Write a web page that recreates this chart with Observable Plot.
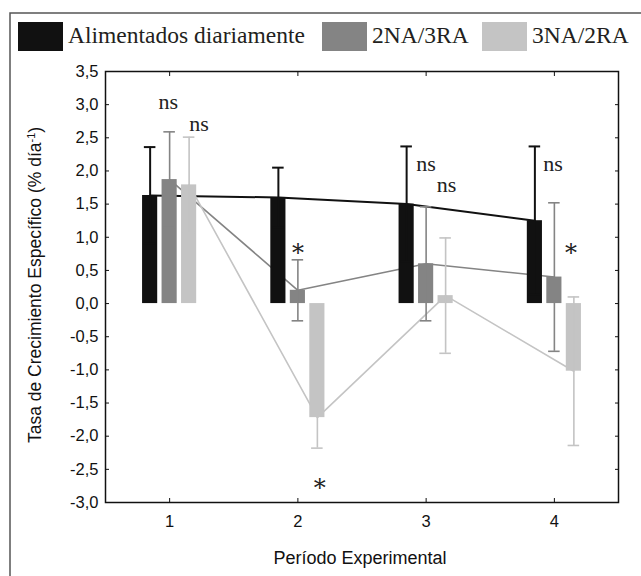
<!DOCTYPE html>
<html><head><meta charset="utf-8">
<script src="https://cdn.jsdelivr.net/npm/d3@7"></script>
<script src="https://cdn.jsdelivr.net/npm/@observablehq/plot@0.6"></script>
<style>
html,body{margin:0;padding:0;background:#fff;}
#wrap{position:relative;width:641px;height:576px;overflow:hidden;}
#wrap > svg{position:absolute;left:0;top:0;}
</style></head><body><div id="wrap"></div>
<script>
// ---- data ----
const periods = [1, 2, 3, 4];
const seriesNames = ["Alimentados diariamente", "2NA/3RA", "3NA/2RA"];
const seriesColors = ["#111111", "#848484", "#c4c4c4"];
const meanDaily  = [1.63, 1.60, 1.50, 1.25];
const sdDaily    = [0.73, 0.45, 0.87, 1.12];
const mean2NA3RA = [1.87, 0.20, 0.60, 0.40];
const sd2NA3RA   = [0.72, 0.46, 0.86, 1.12];
const mean3NA2RA = [1.79, -1.72, 0.12, -1.02];
const sd3NA2RA   = [0.72, 0.46, 0.87, 1.12];
const yTicks = [-3, -2.5, -2, -1.5, -1, -0.5, 0, 0.5, 1, 1.5, 2, 2.5, 3, 3.5];
const annotText = ["ns", "ns", "*", "*", "ns", "ns", "ns", "*"];
const annotX    = [0.99, 1.23, 2.0, 2.17, 3.0, 3.16, 3.99, 4.13];
const annotY    = [2.94, 2.61, 0.71, -2.82, 2.0, 1.69, 2.0, 0.72];
const xTitle = "Período Experimental";
const yTitle = "Tasa de Crecimiento Específico (% día";
const yTitleSup = "-1";

// ---- build ----
const offsets = [-0.152, 0, 0.152];
const barW = 0.118, capW = 0.09;
const means = [meanDaily, mean2NA3RA, mean3NA2RA];
const sds = [sdDaily, sd2NA3RA, sd3NA2RA];
const rows = seriesNames.flatMap((s, i) => periods.map((p, j) => ({
  series: s, i, period: p, mean: means[i][j], sd: sds[i][j], xc: p + offsets[i]
})));
const annots = annotText.map((t, k) => ({t, x: annotX[k], y: annotY[k]}));
const nsAnn = annots.filter(a => a.t === "ns");
const starAnn = annots.filter(a => a.t === "*");
const fmt = d => d.toFixed(1).replace(".", ",");
const sw = d => d.i === 0 ? 2 : 1.6;

const chart = Plot.plot({
  width: 641, height: 576,
  marginLeft: 105, marginRight: 23, marginTop: 71, marginBottom: 74,
  style: {fontFamily: "'Liberation Sans', Arial, sans-serif", fontSize: "16px", color: "#111", background: "transparent"},
  x: {domain: [0.5, 4.5]},
  y: {domain: [-3, 3.5]},
  color: {domain: seriesNames, range: seriesColors},
  marks: [
    ...seriesNames.map((s, i) => Plot.line(rows.filter(r => r.i === i), {
      x: "xc", y: "mean", stroke: seriesColors[i], strokeWidth: i === 0 ? 2 : 1.6
    })),
    Plot.rect(rows, {x1: d => d.xc - barW / 2, x2: d => d.xc + barW / 2, y1: 0, y2: "mean", fill: "series"}),
    Plot.ruleX(rows, {x: "xc", y1: d => d.mean - d.sd, y2: d => d.mean + d.sd, stroke: "series", strokeWidth: sw}),
    Plot.ruleY(rows, {y: d => d.mean + d.sd, x1: d => d.xc - capW / 2, x2: d => d.xc + capW / 2, stroke: "series", strokeWidth: sw}),
    Plot.ruleY(rows, {y: d => d.mean - d.sd, x1: d => d.xc - capW / 2, x2: d => d.xc + capW / 2, stroke: "series", strokeWidth: sw}),
    Plot.text(nsAnn, {x: "x", y: "y", text: "t", lineAnchor: "bottom", fontFamily: "'Liberation Serif', serif", fontSize: 22, fill: "#222"}),
    Plot.text(starAnn, {x: "x", y: "y", text: "t", lineAnchor: "bottom", dy: 5, fontFamily: "'DejaVu Serif', serif", fontSize: 24, fill: "#222"}),
    Plot.frame({stroke: "#111", strokeWidth: 1.5}),
    Plot.axisY(yTicks, {anchor: "left", tickSize: 0, tickPadding: 7, tickFormat: fmt, label: null, fontSize: 16.5}),
    Plot.axisY(yTicks, {anchor: "left", tickSize: -4, tickFormat: () => "", label: null}),
    Plot.axisY(yTicks, {anchor: "right", tickSize: -4, tickFormat: () => "", label: null}),
    Plot.axisX(periods, {anchor: "bottom", tickSize: 0, tickPadding: 13, tickFormat: d => String(d), label: null, fontSize: 16.5}),
    Plot.axisX(periods, {anchor: "bottom", tickSize: -4, tickFormat: () => "", label: null}),
    Plot.axisX(periods, {anchor: "top", tickSize: -4, tickFormat: () => "", label: null})
  ]
});
const wrap = document.getElementById("wrap");
wrap.appendChild(chart);

// ---- overlay: border, legend, titles ----
const ov = d3.select(wrap).append("svg").attr("width", 641).attr("height", 576);
ov.append("path").attr("d", "M10,576V13H641").attr("fill", "none").attr("stroke", "#555").attr("stroke-width", 1.5);
const legX = [18, 322, 482];
const leg = ov.selectAll("g.leg").data(seriesNames).join("g").attr("class", "leg");
leg.append("rect").attr("x", (d, i) => legX[i]).attr("y", 22).attr("width", 45).attr("height", 29)
  .attr("fill", (d, i) => seriesColors[i]);
leg.append("text").attr("x", (d, i) => legX[i] + 50).attr("y", 43).text(d => d)
  .attr("font-family", "'Liberation Serif', serif").attr("font-size", 23.5).attr("fill", "#231f20");
ov.append("text").attr("x", 360).attr("y", 564).attr("text-anchor", "middle")
  .attr("font-family", "'Liberation Sans', Arial, sans-serif").attr("font-size", 18).attr("fill", "#111").text(xTitle);
const yt = ov.append("text").attr("transform", "translate(41,285) rotate(-90)").attr("text-anchor", "middle")
  .attr("font-family", "'Liberation Sans', Arial, sans-serif").attr("font-size", 17.5).attr("fill", "#111");
yt.append("tspan").text(yTitle);
yt.append("tspan").attr("baseline-shift", "super").attr("font-size", 11).text(yTitleSup);
yt.append("tspan").text(")");
</script></body></html>
